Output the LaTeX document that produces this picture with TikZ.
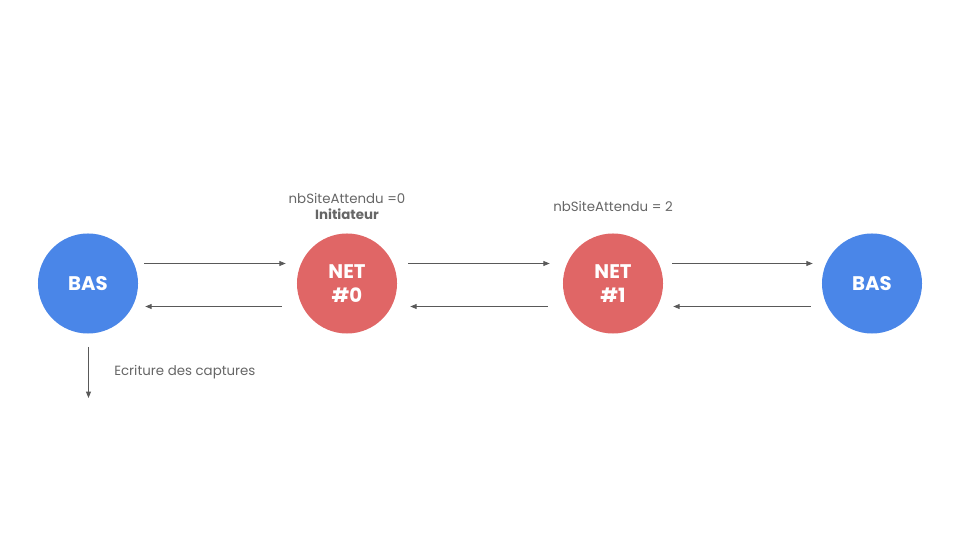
\documentclass[tikz,border=0pt]{standalone}
\usepackage{fontspec}
\setmainfont{Poppins}
\usetikzlibrary{arrows.meta}

\definecolor{basblue}{HTML}{4A86E8}
\definecolor{netred}{HTML}{E06666}
\definecolor{linegray}{HTML}{595959}
\definecolor{textgray}{HTML}{666666}

\begin{document}
\begin{tikzpicture}[x=0.025cm, y=0.025cm,
    site/.style={circle, minimum size=2.5cm, inner sep=0pt, text=white,
        font=\fontsize{14}{16.5}\selectfont\bfseries, align=center},
    bas/.style={site, fill=basblue},
    net/.style={site, fill=netred},
    msg/.style={draw=linegray, line width=0.6pt, -{Triangle[length=4.5pt, width=3.5pt]}},
    info/.style={text=textgray, font=\fontsize{9.5}{11}\selectfont, inner sep=0pt}]
            \useasboundingbox (0,0) rectangle (960,540);

            % Sites
            \node[bas] (bas1) at (88,256.5) {BAS};
            \node[net] (net0) at (347,256.5) {NET\\\#0};
            \node[net] (net1) at (613,256.5) {NET\\\#1};
            \node[bas] (bas2) at (872,256.5) {BAS};

            % Messages vers la droite
            \draw[msg] ([xshift=0.15cm, yshift=0.5cm]bas1.east) -- ([xshift=-0.275cm, yshift=0.5cm]net0.west);
            \draw[msg] ([xshift=0.275cm, yshift=0.5cm]net0.east) -- ([xshift=-0.325cm, yshift=0.5cm]net1.west);
            \draw[msg] ([xshift=0.225cm, yshift=0.5cm]net1.east) -- ([xshift=-0.225cm, yshift=0.5cm]bas2.west);
            % Messages vers la gauche
            \draw[msg] ([xshift=-0.375cm, yshift=-0.575cm]net0.west) -- ([xshift=0.175cm, yshift=-0.575cm]bas1.east);
            \draw[msg] ([xshift=-0.375cm, yshift=-0.575cm]net1.west) -- ([xshift=0.325cm, yshift=-0.575cm]net0.east);
            \draw[msg] ([xshift=-0.275cm, yshift=-0.575cm]bas2.west) -- ([xshift=0.25cm, yshift=-0.575cm]net1.east);

            % Ecriture
            \coordinate (ecr) at (88.5,142);
            \draw[msg] ([xshift=0.0125cm, yshift=-0.325cm]bas1.south) -- (ecr);
            \node[info, anchor=west] (ecrlbl) at (114,167.5) {Ecriture des captures};

            % Compteurs
            \node[info] (cnt0) at (347,342) {nbSiteAttendu =0};
            \node[info, font=\fontsize{9.5}{11}\selectfont\bfseries] (init) at (347,326) {Initiateur};
            \node[info] (cnt1) at (613,334) {nbSiteAttendu = 2};
\end{tikzpicture}
\end{document}
